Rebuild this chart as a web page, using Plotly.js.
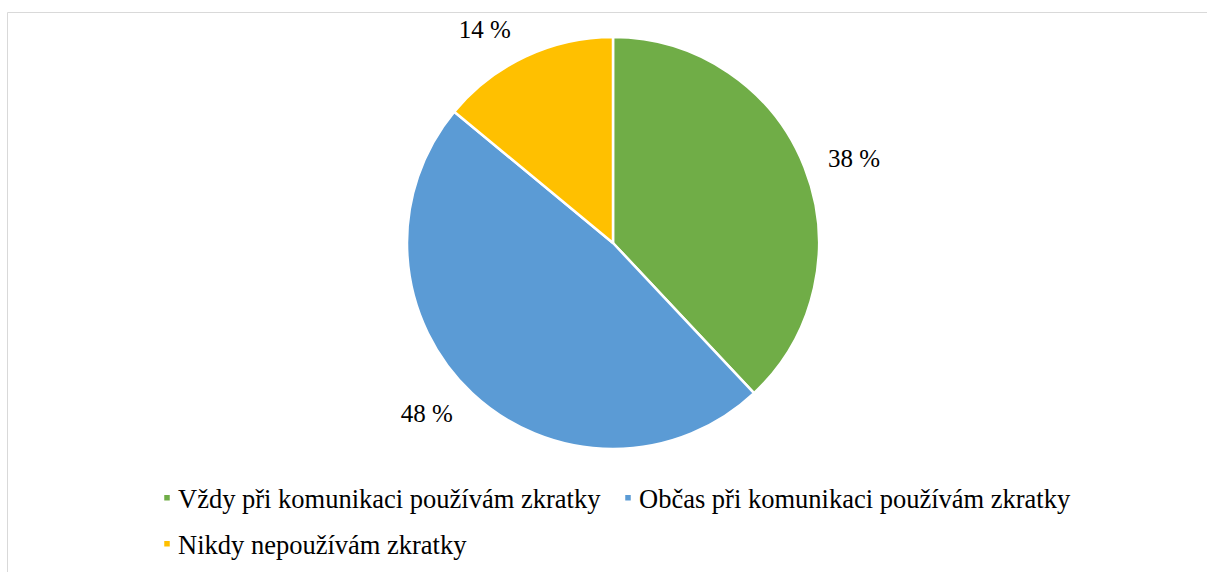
<!DOCTYPE html>
<html>
<head>
<meta charset="utf-8">
<script src="https://cdn.plot.ly/plotly-3.0.1.min.js"></script>
<style>html,body{margin:0;padding:0;background:#fff;}#chart{width:1207px;height:572px;}</style>
</head>
<body>
<div id="chart"></div>
<script>
const categories = ["Vždy při komunikaci používám zkratky", "Občas při komunikaci používám zkratky", "Nikdy nepoužívám zkratky"];
const values = [38, 48, 14];
const colors = ["#70AD47", "#5B9BD5", "#FFC000"];

const W = 1207, H = 572;
const SERIF = "Liberation Serif";
const ROWGAP = 46;      // legend row spacing (px)
const LABEL_PUSH = 18;  // extra radial distance of outside labels (px)

const trace = {
  type: "pie",
  labels: categories,
  values: values,
  sort: false,
  direction: "clockwise",
  rotation: 0,
  marker: {colors: colors, line: {color: "#ffffff", width: 2.5}},
  textposition: "outside",
  texttemplate: "%{value} %",
  textfont: {family: SERIF, size: 25, color: "#000"},
  domain: {x: [407/W, 819/W], y: [(H-449)/H, (H-37)/H]},
  hoverinfo: "label+value"
};
const layout = {
  width: W, height: H,
  margin: {l: 0, r: 0, t: 0, b: 0},
  paper_bgcolor: "#fff",
  font: {family: SERIF},
  showlegend: true,
  legend: {
    orientation: "h", x: 138/W, xanchor: "left", y: 1-474/H, yanchor: "top",
    font: {family: SERIF, size: 26.5, color: "#000"},
    entrywidth: 416, entrywidthmode: "pixels", traceorder: "normal"
  },
  shapes: [
    {type: "line", xref: "paper", yref: "paper", x0: 7.5/W, x1: 1, y0: 1-12.5/H, y1: 1-12.5/H, line: {color: "#d9d9d9", width: 1}},
    {type: "line", xref: "paper", yref: "paper", x0: 7.5/W, x1: 7.5/W, y0: 1-12.5/H, y1: 0, line: {color: "#d9d9d9", width: 1}}
  ]
};
const gd = document.getElementById("chart");
Plotly.newPlot(gd, [trace], layout, {displayModeBar: false, staticPlot: true}).then(function(){
  gd.querySelectorAll("path.legendpie").forEach(function(p){ p.setAttribute("d", "M13,4H5V-4H13Z"); });
  const parse = function(el){
    const m = /translate\(\s*([-\d.e]+)[\s,]*([-\d.e]+)?\s*\)/.exec(el.getAttribute("transform") || "");
    return m ? [parseFloat(m[1]), parseFloat(m[2] || 0)] : [0, 0];
  };
  const items = Array.from(gd.querySelectorAll(".legend g.traces"));
  if (items.length) {
    const ys = items.map(function(el){ return parse(el)[1]; });
    const y0 = Math.min.apply(null, ys);
    items.forEach(function(el){
      const xy = parse(el);
      if (xy[1] > y0 + 1) el.setAttribute("transform", "translate(" + xy[0] + "," + (y0 + ROWGAP) + ")");
    });
  }
  gd.querySelectorAll(".legend .scrollbox").forEach(function(s){ s.removeAttribute("clip-path"); });
  const cd = gd.calcdata && gd.calcdata[0];
  gd.querySelectorAll("g.slice").forEach(function(g, i){
    const t = g.querySelector("g.slicetext");
    if (!t || !cd || !cd[i] || !cd[i].pxmid) return;
    const v = cd[i].pxmid, len = Math.hypot(v[0], v[1]) || 1;
    const prev = t.getAttribute("transform") || "";
    t.setAttribute("transform", "translate(" + (LABEL_PUSH*v[0]/len) + "," + (LABEL_PUSH*v[1]/len) + ") " + prev);
  });
});
</script>
</body>
</html>
